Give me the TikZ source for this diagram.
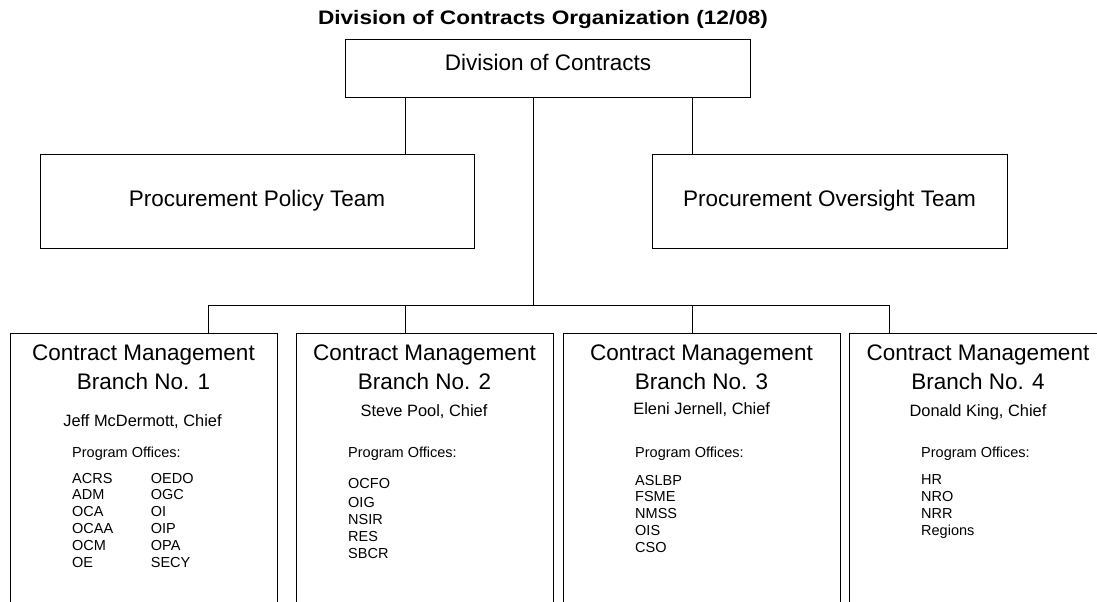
\documentclass[tikz,border=0pt]{standalone}
\usepackage{graphicx}
\usepackage{fontspec}
\setmainfont{Liberation Sans}
\begin{document}
\begin{tikzpicture}[x=1pt,y=-1pt,
 box/.style={draw,line width=1pt,inner sep=0pt},
 conn/.style={line width=0.9pt},
 big/.style={font=\fontsize{22.5}{29}\selectfont,align=center},
 chief/.style={font=\fontsize{16.4}{19}\selectfont},
 small/.style={font=\fontsize{14.5}{16.8}\selectfont,align=left,anchor=north west,inner sep=0pt}]
 \useasboundingbox (0,0) rectangle (1097,602);
 \clip (0,0) rectangle (1097,602);
 \node[font=\fontsize{19.5}{22}\selectfont\bfseries] (title) at (543,20) {\scalebox{1.16}[1]{Division of Contracts Organization (12/08)}};
 \node[box,minimum width=405pt,minimum height=57pt] (doc) at (548,68.5) {};
 \node[big] (doclbl) at (548,62) {Division of Contracts};
 \node[box,minimum width=434pt,minimum height=94pt] (policy) at (257,201) {};
 \node[big] (policylbl) at (policy) {Procurement Policy Team};
 \node[box,minimum width=355pt,minimum height=94pt] (oversight) at (829.5,201) {};
 \node[big] (oversightlbl) at (oversight) {Procurement Oversight Team};
 \node[box,minimum width=267pt,minimum height=307pt] (b1) at (143.5,486.5) {};
 \node[box,minimum width=257pt,minimum height=307pt] (b2) at (424.5,486.5) {};
 \node[box,minimum width=277pt,minimum height=307pt] (b3) at (701.5,486.5) {};
 \node[box,minimum width=258pt,minimum height=307pt] (b4) at (978,486.5) {};
 \foreach \i/\x in {1/143.5,2/424.5,3/701.5,4/978}
  \node[big,anchor=north,inner sep=0pt] (b\i lbl) at (\x,345) {Contract Management\\Branch No. \i};
 \node[chief] (chief1) at (142.5,422) {Jeff McDermott, Chief};
 \node[chief] (chief2) at (424,412) {Steve Pool, Chief};
 \node[chief] (chief3) at (701.7,410) {Eleni Jernell, Chief};
 \node[chief] (chief4) at (978,412) {Donald King, Chief};
 \foreach \i/\x in {1/72,2/348,3/635,4/921}
  \node[small] (po\i) at (\x,447) {Program Offices:};
 \node[small] (list1a) at (72,472.8) {ACRS\\ADM\\OCA\\OCAA\\OCM\\OE};
 \node[small] (list1b) at (150.7,472.8) {OEDO\\OGC\\OI\\OIP\\OPA\\SECY};
 \node[small] (list2) at (348,477.8) {OCFO\\[3pt]OIG\\NSIR\\RES\\SBCR};
 \node[small] (list3) at (635,474.8) {ASLBP\\FSME\\NMSS\\OIS\\CSO};
 \node[small] (list4) at (921,474.8) {HR\\NRO\\NRR\\Regions};
 % connectors
 \coordinate (hub) at (533,305);
 \coordinate (t1) at (208,305);
 \coordinate (t2) at (405,305);
 \coordinate (t3) at (692,305);
 \coordinate (t4) at (889,305);
 \draw[conn] (doc.south -| t2) -- (policy.north -| t2);
 \draw[conn] (doc.south -| t3) -- (oversight.north -| t3);
 \draw[conn] (doc.south -| hub) -- (hub);
 \draw[conn] (t1) -- (t4);
 \foreach \i in {1,...,4}
  \draw[conn] (t\i) -- (b\i.north -| t\i);
\end{tikzpicture}
\end{document}
